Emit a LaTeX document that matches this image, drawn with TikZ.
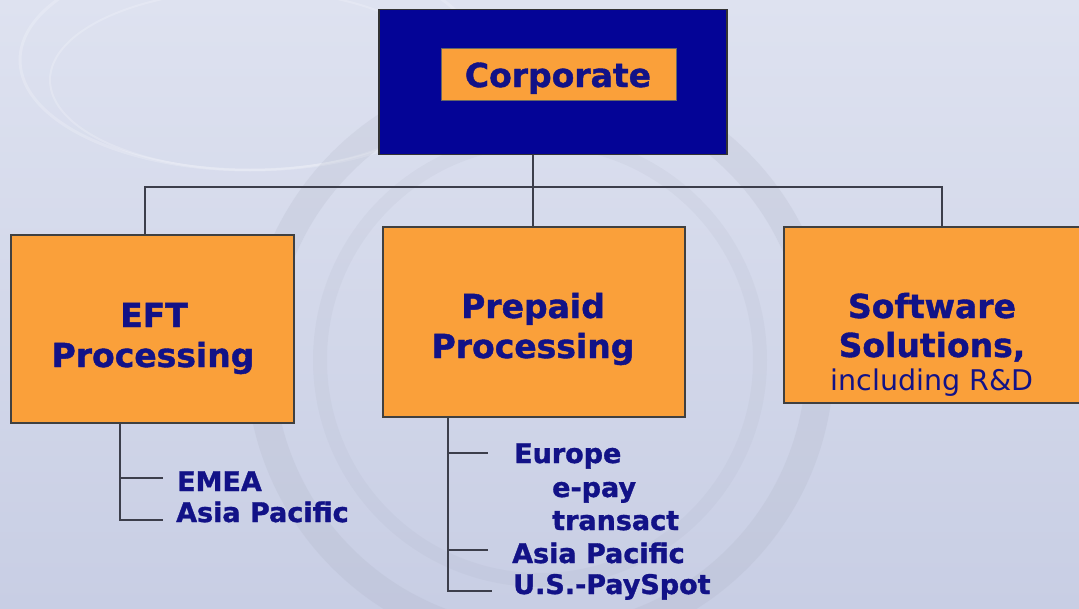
\documentclass[tikz,border=0pt]{standalone}
\usepackage{fontspec}
\setmainfont{DejaVu Sans}[BoldFeatures={FakeBold=1.2}]
\begin{document}
\begin{tikzpicture}[x=1pt,y=-1pt,
  box/.style={draw=black!75, line width=1.2pt, fill=orgfill, inner sep=0pt},
  big/.style={font=\fontsize{33}{38}\selectfont\bfseries, text=navytxt, inner sep=0pt, anchor=base},
  small/.style={font=\fontsize{27}{30}\selectfont\bfseries, text=navytxt, inner sep=0pt, anchor=base west},
  conn/.style={draw=linegrey, line width=1.6pt},
]
\definecolor{orgfill}{RGB}{250,160,58}
\definecolor{navytxt}{RGB}{18,18,135}
\definecolor{corpblue}{RGB}{4,4,150}
\definecolor{linegrey}{RGB}{60,62,75}
\definecolor{bgA}{RGB}{222,226,240}
\definecolor{bgB}{RGB}{200,206,228}
\useasboundingbox (0,0) rectangle (1079,608);
\shade[top color=bgA, bottom color=bgB] (0,0) rectangle (1079,608);
% faint watermark rings
\begin{scope}[draw=white, opacity=0.2]
  \draw[line width=3pt] (250,60) ellipse (230 and 110);
  \draw[line width=2pt] (250,80) ellipse (200 and 90);
\end{scope}
\draw[draw=bgB!80!black, opacity=0.15, line width=28pt] (540,360) circle (280);
\draw[draw=bgB!80!black, opacity=0.10, line width=14pt] (540,360) circle (220);

% boxes
\node[draw=black!80, line width=1.2pt, fill=corpblue, minimum width=348, minimum height=145, inner sep=0pt] (corp) at (553,82) {};
\node[draw=black!60, line width=0.8pt, fill=orgfill, minimum width=235, minimum height=52, inner sep=0pt] (corpin) at (558.5,74) {};
\node[big] (corptxt) at (558,87) {Corporate};

\node[box, minimum width=283, minimum height=188] (eft) at (152.5,329) {};
\node[box, minimum width=302, minimum height=190] (pre) at (534,322) {};
\node[box, minimum width=300, minimum height=176] (sw) at (934,315) {};

\node[big] (eft1) at (154,327) {EFT};
\node[big] (eft2) at (153,367) {Processing};
\node[big] (pre1) at (533,318) {Prepaid};
\node[big] (pre2) at (533,358) {Processing};
\node[big] (sw1) at (932,318) {Software};
\node[big] (sw2) at (932,357) {Solutions,};
\node[font=\fontsize{28.5}{30}\selectfont, text=navytxt, inner sep=0pt, anchor=base] (sw3) at (932,390) {including R\&D};

% connectors
\coordinate (bar) at (533,187);
\draw[conn] (corp.south -| bar) -- (bar);
\draw[conn] (eft.north -| 145,0) |- (bar) -| (sw.north -| 942,0);
\draw[conn] (bar) -- (pre.north -| bar);

% sub-lists
\node[small] (emea) at (177,491) {EMEA};
\node[small] (eap) at (176,522) {Asia Pacific};
\coordinate (t1) at (163,478);
\coordinate (t2) at (163,520);
\draw[conn] (eft.south -| 120,0) |- (t2);
\draw[conn] (t1 -| 120,0) -- (t1);

\node[small] (eu) at (514,463) {Europe};
\node[small] (epay) at (552,497) {e-pay};
\node[small] (tr) at (552,530) {transact};
\node[small] (pap) at (512,563) {Asia Pacific};
\node[small] (us) at (513,594) {U.S.-PaySpot};
\coordinate (p1) at (488,453);
\coordinate (p2) at (488,550);
\coordinate (p3) at (492,591);
\draw[conn] (pre.south -| 448,0) |- (p3);
\draw[conn] (p1 -| 448,0) -- (p1);
\draw[conn] (p2 -| 448,0) -- (p2);
\end{tikzpicture}
\end{document}
